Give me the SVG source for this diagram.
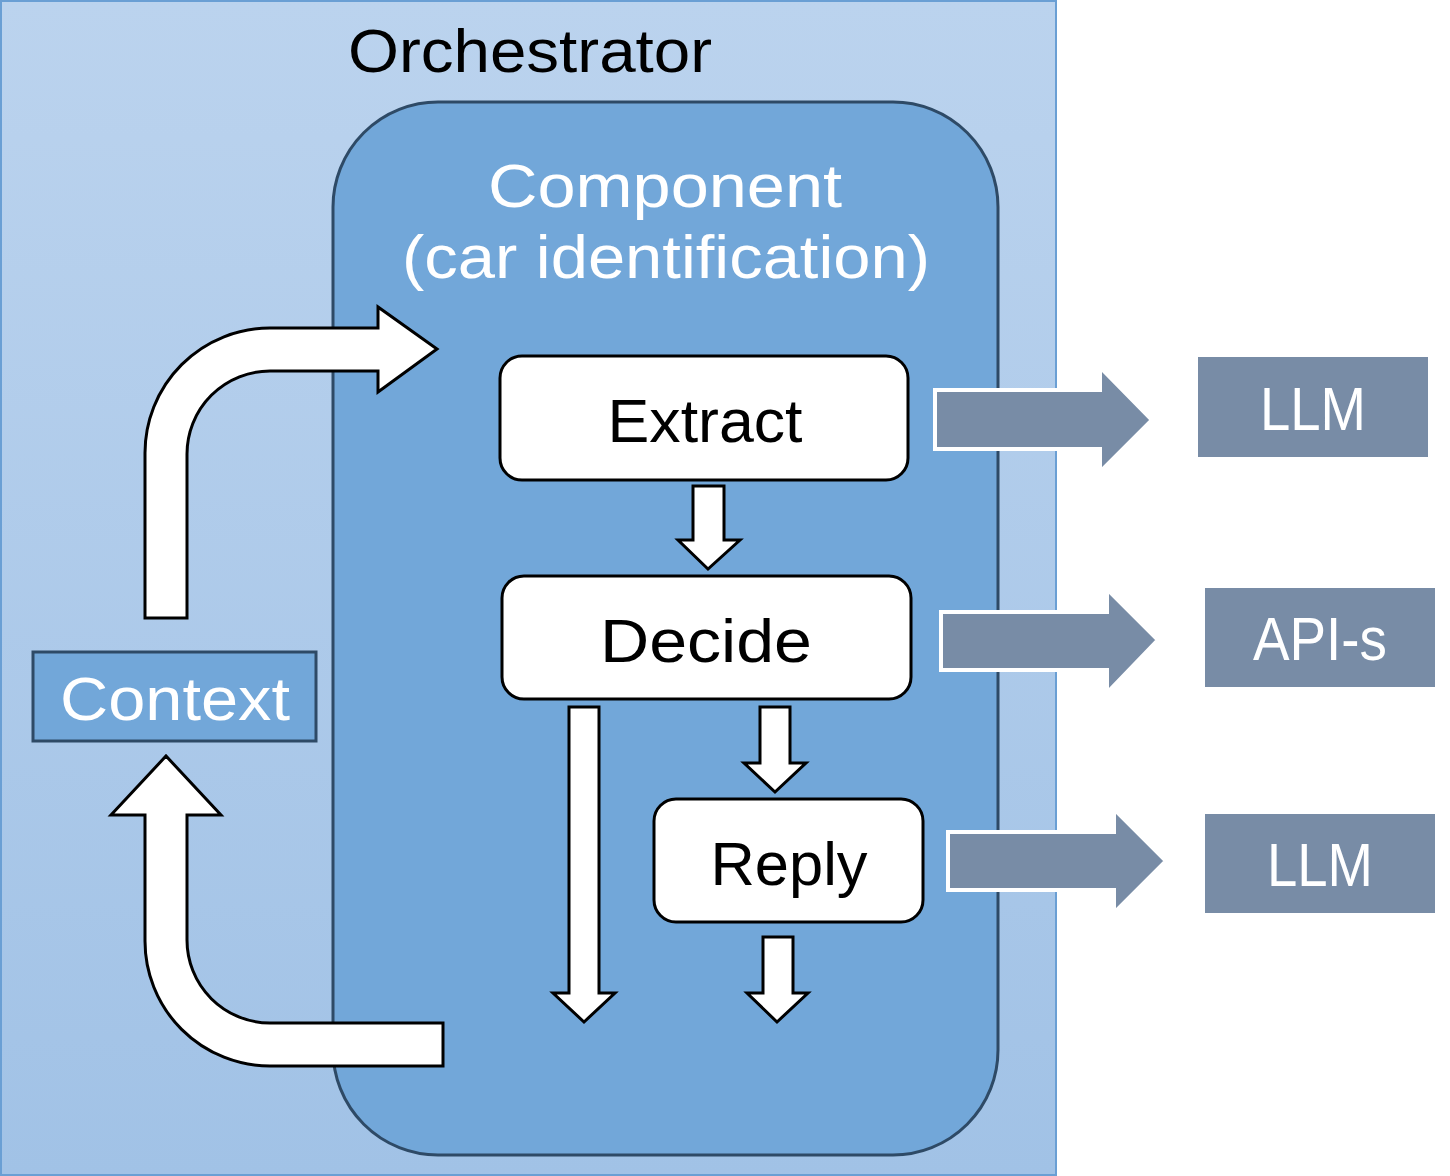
<svg xmlns="http://www.w3.org/2000/svg" width="1450" height="1176" viewBox="0 0 1450 1176">
<defs>
<linearGradient id="orch" x1="0" y1="0" x2="0" y2="1">
<stop offset="0" stop-color="#BBD3EE"/>
<stop offset="1" stop-color="#A1C2E6"/>
</linearGradient>
<style>
text{font-family:"Liberation Sans","DejaVu Sans",sans-serif;text-anchor:middle}
.step{fill:#fff;stroke:#000;stroke-width:3}
.blk{fill:#000;font-size:62px}
.wht{fill:#fff;font-size:62px}
.arr{fill:#fff;stroke:#000;stroke-width:3;stroke-linejoin:miter}
.gar{fill:#788CA6;stroke:#fff;stroke-width:4}
.ext{fill:#788CA6}
</style>
</defs>
<rect width="1450" height="1176" fill="#fff"/>
<g id="orchestrator">
<rect x="1" y="1" width="1055" height="1174" fill="url(#orch)" stroke="#6A9FD4" stroke-width="2"/>
<text x="530" y="72" class="blk" textLength="364" lengthAdjust="spacingAndGlyphs">Orchestrator</text>
</g>
<g id="component">
<rect x="333" y="102" width="665" height="1053" rx="105" ry="105" fill="#72A7D9" stroke="#2E4A66" stroke-width="3"/>
<text x="665" y="207" class="wht" textLength="354" lengthAdjust="spacingAndGlyphs">Component</text>
<text x="666" y="278" class="wht" textLength="528" lengthAdjust="spacingAndGlyphs">(car identification)</text>
</g>
<g id="context">
<rect x="33" y="652" width="283" height="89" fill="#72A7D9" stroke="#2E4A66" stroke-width="3"/>
<text x="175" y="720" class="wht" textLength="230" lengthAdjust="spacingAndGlyphs">Context</text>
</g>
<g id="extract">
<rect x="500" y="356" width="408" height="124" rx="22" class="step"/>
<text x="705" y="442" class="blk" textLength="195" lengthAdjust="spacingAndGlyphs">Extract</text>
</g>
<g id="decide">
<rect x="502" y="576" width="409" height="123" rx="22" class="step"/>
<text x="706" y="662" class="blk" textLength="212" lengthAdjust="spacingAndGlyphs">Decide</text>
</g>
<g id="reply">
<rect x="654" y="799" width="269" height="123" rx="22" class="step"/>
<text x="789" y="885" class="blk" textLength="157" lengthAdjust="spacingAndGlyphs">Reply</text>
</g>
<g id="llm1">
<rect x="1198" y="357" width="230" height="100" class="ext"/>
<text x="1313" y="430" class="wht" textLength="106" lengthAdjust="spacingAndGlyphs">LLM</text>
</g>
<g id="apis">
<rect x="1205" y="588" width="230" height="99" class="ext"/>
<text x="1320" y="660" class="wht" textLength="134" lengthAdjust="spacingAndGlyphs">API-s</text>
</g>
<g id="llm2">
<rect x="1205" y="814" width="230" height="99" class="ext"/>
<text x="1320" y="886" class="wht" textLength="106" lengthAdjust="spacingAndGlyphs">LLM</text>
</g>
<g id="connectors">
<path class="arr" d="M145,618 V453 A125,125 0 0 1 270,328 H378 V307 L437,349 L378,392 V371 H270 A83,83 0 0 0 187,454 V618 Z"/>
<path class="arr" d="M443,1023 H270 A83,83 0 0 1 187,940 V815 H221 L166,756 L111,815 H145 V941 A125,125 0 0 0 270,1066 H443 Z"/>
<path class="arr" d="M693,486 H724 V540 H740 L708,569 L678,540 H693 Z"/>
<path class="arr" d="M760,707 H790 V763 H806 L775,792 L744,763 H760 Z"/>
<path class="arr" d="M569,707 H599 V993 H615 L584,1022 L553,993 H569 Z"/>
<path class="arr" d="M763,937 H793 V993 H808 L777,1022 L747,993 H763 Z"/>
<path class="gar" d="M935,390 H1100 V367 L1152,420 L1100,472 V449 H935 Z"/>
<path class="gar" d="M941,612 H1107 V589 L1158,640 L1107,693 V670 H941 Z"/>
<path class="gar" d="M948,832 H1114 V809 L1166,861 L1114,913 V890 H948 Z"/>
</g>
</svg>
